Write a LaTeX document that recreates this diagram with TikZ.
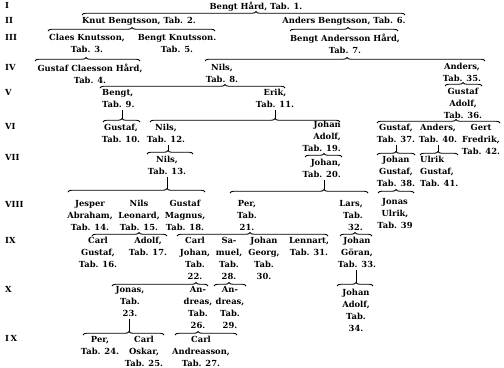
\documentclass[tikz,border=0pt]{standalone}
\usepackage{fontspec}
\setmainfont{DejaVu Serif}
\usetikzlibrary{decorations.pathreplacing}
\tikzset{
  gen/.style={font=\fontsize{8.4}{12}\selectfont\bfseries, align=center, anchor=north, inner sep=0pt},
  genl/.style={gen, align=left, anchor=north west},
  genr/.style={gen, align=right, anchor=north east},
  lab/.style={font=\fontsize{8.4}{12}\selectfont\bfseries, anchor=north west, inner sep=0pt},
  genbrace/.style={line width=0.9pt, decorate},
  stem/.style={line width=0.9pt}
}
\newcommand\gbrace[5]{%
  \pgfmathsetmacro\gasp{(#5-#2)/(#3-#2)}%
  \coordinate (#1) at (#5,#4-3.5);
  \draw[genbrace, decoration={brace, amplitude=3.5bp, aspect=\gasp}] (#2,#4) -- (#3,#4);
}
\begin{document}
\begin{tikzpicture}[x=1bp,y=-1bp]
\useasboundingbox (0,0) rectangle (504,367);
% generation labels
\node[lab] (gI) at (5,2) {I};
\node[lab] (gII) at (5,17) {II};
\node[lab] (gIII) at (5,34) {III};
\node[lab] (gIV) at (5,64) {IV};
\node[lab] (gV) at (5,89) {V};
\node[lab] (gVI) at (5,123) {VI};
\node[lab] (gVII) at (5,154) {VII};
\node[lab] (gVIII) at (5,201) {VIII};
\node[lab] (gIX) at (5,237) {IX};
\node[lab] (gX) at (5,286) {X};
\node[lab] (gIXb) at (5,335) {I\,X};
% people
\node[gen] (n1) at (256,2) {Bengt Hård, Tab. 1.};
\node[gen] (n2) at (139,17) {Knut Bengtsson, Tab. 2.};
\node[gen] (n6) at (344,17) {Anders Bengtsson, Tab. 6.};
\node[gen] (n3) at (87,34) {Claes Knutsson,\\Tab. 3.};
\node[gen] (n5) at (177,34) {Bengt Knutsson.\\Tab. 5.};
\node[gen] (n7) at (345,34) {Bengt Andersson Hård,\\Tab. 7.};
\node[gen] (n4) at (90,64) {Gustaf Claesson Hård,\\Tab. 4.};
\node[gen] (n8) at (222,64) {Nils,\\Tab. 8.};
\node[gen] (n35) at (462,63) {Anders,\\Tab. 35.};
\node[genl] (n9) at (102,89) {Bengt,\\Tab. 9.};
\node[gen] (n11) at (275,89) {Erik,\\Tab. 11.};
\node[gen] (n36) at (463,88) {Gustaf\\Adolf,\\Tab. 36.};
\node[gen] (n10) at (121,124) {Gustaf,\\Tab. 10.};
\node[gen] (n12) at (166,124) {Nils,\\Tab. 12.};
\node[genr] (n19) at (341,121) {Johan\\Adolf,\\Tab. 19.};
\node[gen] (n37) at (396,124) {Gustaf,\\Tab. 37.};
\node[gen] (n40) at (438,124) {Anders,\\Tab. 40.};
\node[gen] (n42) at (481,124) {Gert\\Fredrik,\\Tab. 42.};
\node[gen] (n13) at (167,156) {Nils,\\Tab. 13.};
\node[genr] (n20) at (341,159) {Johan,\\Tab. 20.};
\node[gen] (n38) at (396,156) {Johan\\Gustaf,\\Tab. 38.};
\node[genl] (n41) at (420,156) {Ulrik\\Gustaf,\\Tab. 41.};
\node[gen] (n14) at (90,200) {Jesper\\Abraham,\\Tab. 14.};
\node[gen] (n15) at (139,200) {Nils\\Leonard,\\Tab. 15.};
\node[gen] (n18) at (185,200) {Gustaf\\Magnus,\\Tab. 18.};
\node[gen] (n21) at (247,200) {Per,\\Tab.\\21.};
\node[genr] (n32) at (363,200) {Lars,\\Tab.\\32.};
\node[gen] (n39) at (395,198) {Jonas\\Ulrik,\\Tab. 39};
\node[gen] (n16) at (98,237) {Carl\\Gustaf,\\Tab. 16.};
\node[gen] (n17) at (148,237) {Adolf,\\Tab. 17.};
\node[gen] (n22) at (195,237) {Carl\\Johan,\\Tab.\\22.};
\node[gen] (n28) at (229,237) {Sa-\\muel,\\Tab.\\28.};
\node[gen] (n30) at (264,237) {Johan\\Georg,\\Tab.\\30.};
\node[gen] (n31) at (309,237) {Lennart,\\Tab. 31.};
\node[gen] (n33) at (357,237) {Johan\\Göran,\\Tab. 33.};
\node[gen] (n23) at (130,286) {Jonas,\\Tab.\\23.};
\node[gen] (n26) at (198,286) {An-\\dreas,\\Tab.\\26.};
\node[gen] (n29) at (230,286) {An-\\dreas,\\Tab.\\29.};
\node[gen] (n34) at (356,289) {Johan\\Adolf,\\Tab.\\34.};
\node[gen] (n24) at (100,336) {Per,\\Tab. 24.};
\node[gen] (n25) at (144,336) {Carl\\Oskar,\\Tab. 25.};
\node[gen] (n27) at (201,336) {Carl\\Andreasson,\\Tab. 27.};
% braces
\gbrace{b1}{82}{405}{15}{256}
\gbrace{b2}{48}{215}{31}{132}
\gbrace{b6}{290}{398}{31}{348}
\gbrace{b3}{35}{140}{61}{86}
\gbrace{b7}{205}{485}{61}{347}
\gbrace{b8}{100}{285}{88}{225}
\gbrace{b35}{445}{482}{86}{463}
\gbrace{b9}{103}{140}{122}{122}
\gbrace{b11}{150}{340}{122}{275}
\gbrace{b36}{377}{500}{123}{456}
\gbrace{b12}{147}{193}{154}{168}
\gbrace{b19}{305}{342}{157}{324}
\gbrace{b37}{377}{415}{155}{396}
\gbrace{b40}{420}{458}{155}{438}
\gbrace{b13}{68}{205}{192}{167}
\gbrace{b20}{230}{368}{193}{324}
\gbrace{b38}{378}{414}{193}{396}
\gbrace{b15}{92}{167}{236}{139}
\gbrace{b21}{177}{328}{236}{250}
\gbrace{b32}{340}{372}{236}{355}
\gbrace{b22}{112}{208}{286}{196}
\gbrace{b28}{214}{246}{286}{229}
\gbrace{b33}{337}{373}{286}{356}
\gbrace{b23}{83}{164}{335}{129}
\gbrace{b26}{175}{237}{335}{198}
% stems
\draw[stem] ([yshift=-2bp]n9.south -| b9) -- (b9);
\draw[stem] ([yshift=-2bp]n11.south -| b11) -- (b11);
\draw[stem] ([yshift=-2bp]n12.south -| b12) -- (b12);
\draw[stem] ([yshift=-2bp]n37.south -| b37) -- (b37);
\draw[stem] ([yshift=-2bp]n40.south -| b40) -- (b40);
\draw[stem] ([yshift=-2bp]n13.south -| b13) -- (b13);
\draw[stem] ([yshift=-2bp]n20.south -| b20) -- (b20);
\draw[stem] ([yshift=-2bp]n33.south -| b33) -- (b33);
\draw[stem] ([yshift=-2bp]n23.south -| b23) -- (b23);
\end{tikzpicture}
\end{document}
